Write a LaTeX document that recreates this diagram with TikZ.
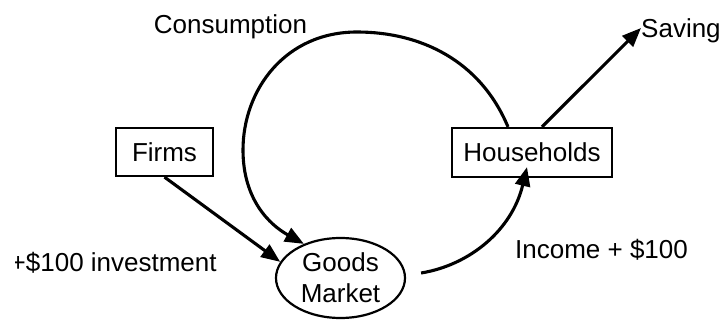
\documentclass[tikz,border=0pt]{standalone}
\usepackage{fontspec}
\setmainfont{Liberation Sans}
\usetikzlibrary{arrows.meta,shapes.geometric}
\begin{document}
\begin{tikzpicture}[x=1pt,y=-1pt,
  lbl/.style={inner sep=0pt,font=\fontsize{26pt}{31pt}\selectfont,text height=18.6pt,text depth=0pt},
  boxnode/.style={draw,line width=2.2pt,inner sep=0pt,font=\fontsize{26pt}{31pt}\selectfont,text height=18.6pt,text depth=0pt},
  arr/.style={line width=3.1pt,-{Triangle[length=19pt,width=15pt]}}]
\useasboundingbox (0,0) rectangle (724,320);
% nodes
\node[boxnode,minimum width=97pt,minimum height=48pt] (firms) at (164.5,152) {Firms};
\node[boxnode,minimum width=160pt,minimum height=49pt] (hh) at (532,152.5) {Households};
\node[draw,line width=2.2pt,ellipse,minimum width=129pt,minimum height=80pt,inner sep=0pt,
      align=center,font=\fontsize{26pt}{31pt}\selectfont] (gm) at (340.5,278) {Goods\\Market};
\node[lbl] (cons) at (230.5,24) {Consumption};
\node[lbl,anchor=west] (sav) at (641,28) {Saving};
\node[lbl] (inc) at (601.5,249.5) {Income + \$100};
\begin{scope}
\clip (15,220) rectangle (260,300);
\node[lbl,anchor=west] (inv) at (10.5,262) {+\$100 investment};
\end{scope}
% connectors
\coordinate (cstart) at ([xshift=-24pt]hh.north);
\draw[arr] (cstart) .. controls (480,60) and (420,32) .. (357,32)
  .. controls (285,32) and (243,90) .. (243,150)
  .. controls (243,200) and (270,225) .. (gm.137);
\draw[arr] (firms.south) -- (gm.165);
\coordinate (istart) at ([xshift=15pt,yshift=5pt]gm.east);
\coordinate (iend) at ([shift={(-5pt,11pt)}]hh.south);
\draw[arr] (istart) .. controls (470,265) and (512,230) .. (iend);
\coordinate (sstart) at ([xshift=10pt]hh.north);
\draw[arr] (sstart) -- (sav.west);
\end{tikzpicture}
\end{document}
